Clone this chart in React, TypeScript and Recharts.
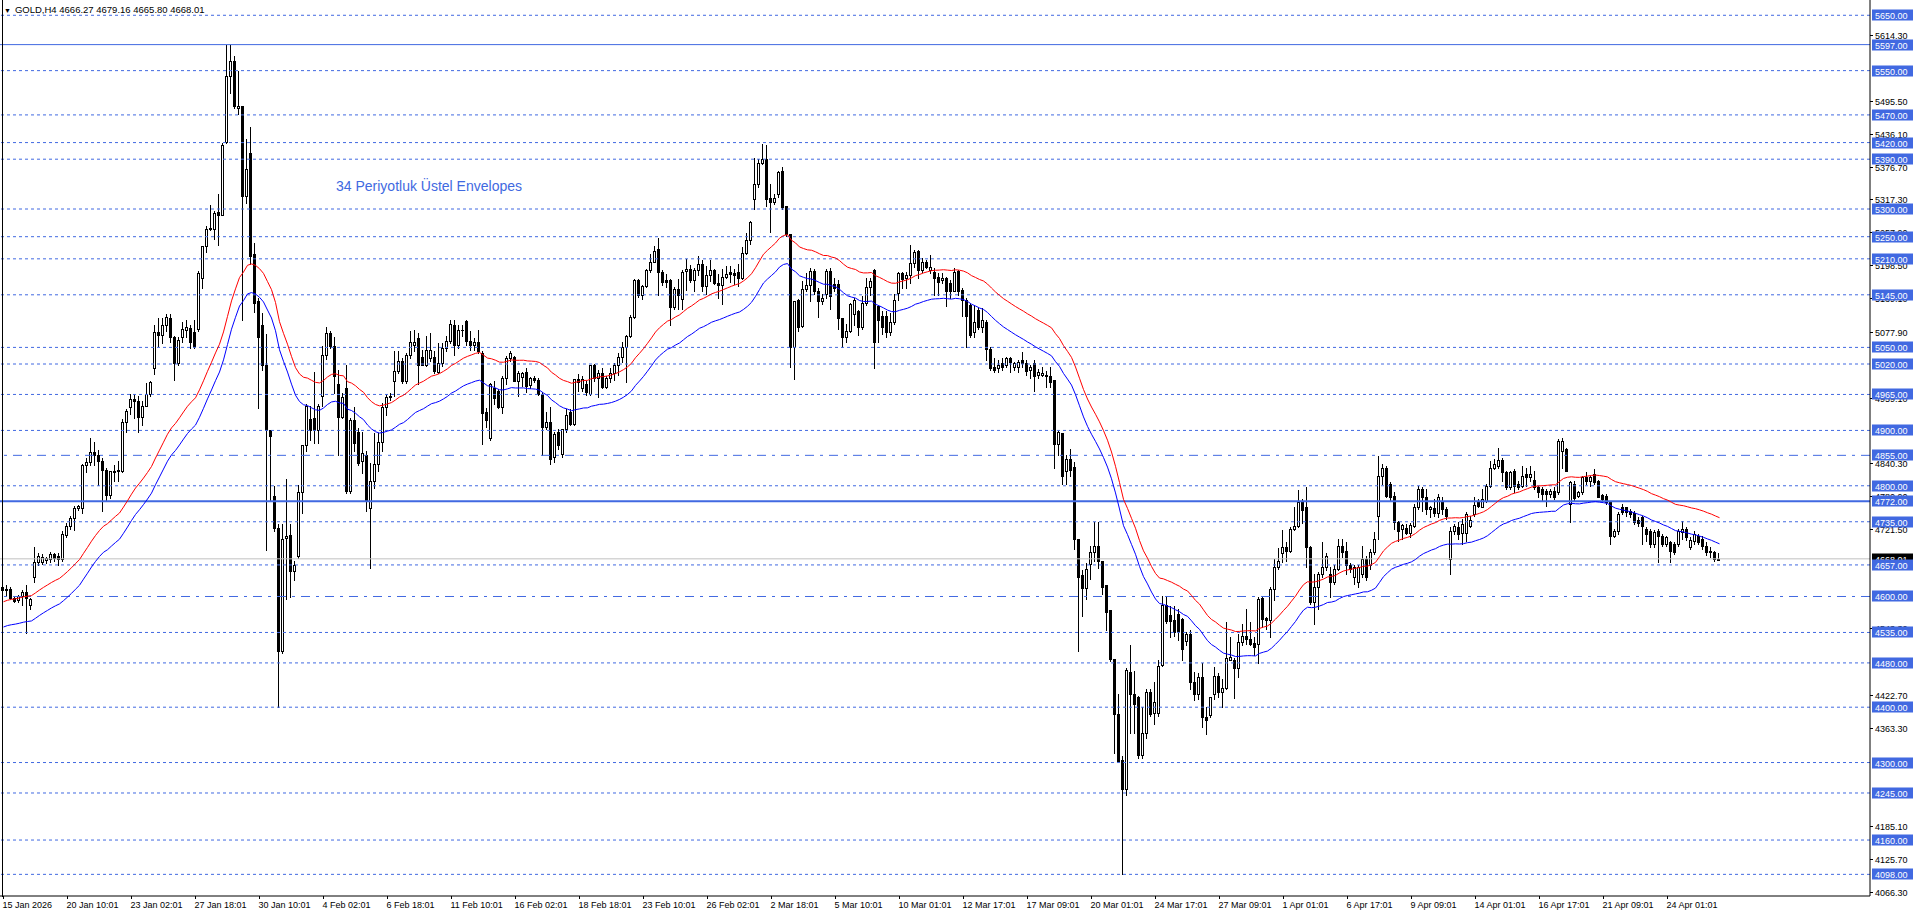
import React from "react";
import { ComposedChart, Bar, Line, XAxis, YAxis, ReferenceLine } from "recharts";

// GOLD H4 bars (open / high / low / close)
const opens = [
  4618, 4612, 4614, 4597, 4594, 4600, 4608, 4584, 4635, 4662,
  4662, 4666, 4667, 4676, 4674, 4668, 4711, 4727, 4742, 4759,
  4759, 4838, 4843, 4861, 4855, 4845, 4829, 4784, 4825, 4828,
  4827, 4915, 4943, 4957, 4953, 4924, 4944, 4966, 5013, 5078,
  5073, 5091, 5103, 5068, 5022, 5068, 5082, 5085, 5078, 5083,
  5176, 5233, 5263, 5264, 5294, 5290, 5421, 5541, 5568, 5483,
  5487, 5324, 5401, 5219, 5134, 5090, 5018, 4901, 4781, 4723,
  4502, 4705, 4711, 4646, 4673, 4789, 4874, 4921, 4922, 4901,
  4963, 5037, 5076, 5053, 4983, 4924, 4977, 4790, 4919, 4898,
  4844, 4856, 4760, 4808, 4839, 4879, 4943, 4960, 4989, 5008,
  5025, 4989, 5037, 5055, 5067, 5032, 5019, 5031, 5032, 5005,
  5022, 5049, 5062, 5091, 5055, 5082, 5097, 5061, 5055, 5060,
  5040, 4934, 4886, 4977, 4971, 4943, 4995, 5031, 5033, 4990,
  4996, 5006, 4982, 4994, 4991, 4966, 4906, 4915, 4852, 4897,
  4858, 4902, 4933, 4912, 4993, 4976, 4984, 4965, 5018, 4994,
  5003, 4979, 4994, 5003, 5018, 5033, 5051, 5071, 5105, 5171,
  5144, 5161, 5189, 5205, 5228, 5187, 5171, 5171, 5123, 5156,
  5138, 5188, 5192, 5172, 5190, 5201, 5161, 5180, 5190, 5167,
  5163, 5178, 5187, 5184, 5187, 5176, 5221, 5244, 5318, 5346,
  5384, 5390, 5320, 5312, 5327, 5368, 5306, 5255, 5050, 5136,
  5089, 5155, 5162, 5188, 5152, 5134, 5146, 5188, 5164, 5164,
  5103, 5069, 5080, 5110, 5115, 5087, 5130, 5160, 5190, 5124,
  5106, 5106, 5077, 5096, 5148, 5184, 5175, 5181, 5202, 5224,
  5190, 5205, 5190, 5187, 5178, 5172, 5175, 5166, 5152, 5188,
  5154, 5136, 5127, 5077, 5118, 5087, 5096, 5048, 5015, 5012,
  5021, 5018, 5030, 5015, 5015, 5027, 5021, 5009, 5021, 5001,
  5001, 5001, 4998, 4991, 4876, 4896, 4826, 4848, 4834, 4704,
  4638, 4615, 4658, 4680, 4691, 4664, 4621, 4575, 4487, 4388,
  4304, 4252, 4464, 4423, 4419, 4314, 4353, 4428, 4390, 4390,
  4476, 4585, 4567, 4557, 4569, 4559, 4519, 4532, 4446, 4424,
  4454, 4383, 4385, 4424, 4457, 4428, 4435, 4486, 4485, 4470,
  4518, 4528, 4524, 4516, 4515, 4598, 4562, 4558, 4614, 4653,
  4679, 4689, 4683, 4722, 4727, 4771, 4762, 4690, 4590, 4617,
  4641, 4653, 4640, 4626, 4649, 4692, 4682, 4656, 4635, 4626,
  4641, 4668, 4656, 4680, 4746, 4818, 4832, 4803, 4782, 4734,
  4722, 4724, 4715, 4728, 4761, 4794, 4779, 4758, 4760, 4750,
  4770, 4758, 4668, 4719, 4726, 4714, 4714, 4728, 4749, 4770,
  4762, 4773, 4800, 4833, 4836, 4846, 4824, 4797, 4826, 4804,
  4800, 4821, 4815, 4810, 4797, 4794, 4791, 4786, 4791, 4788,
  4863, 4866, 4767, 4804, 4782, 4788, 4815, 4808, 4821, 4808,
  4783, 4782, 4770, 4710, 4719, 4761, 4761, 4755, 4750, 4738,
  4743, 4722, 4719, 4695, 4719, 4710, 4695, 4698, 4695, 4695,
  4716, 4722, 4689, 4701, 4710, 4704, 4692, 4680, 4680, 4666.27,
];

const highs = [
  4624, 4621, 4618, 4600, 4603, 4612, 4620, 4598, 4689, 4679,
  4676, 4672, 4680, 4678, 4678, 4718, 4733, 4745, 4763, 4765,
  4840, 4851, 4886, 4879, 4865, 4850, 4833, 4800, 4838, 4845,
  4920, 4939, 4965, 4965, 4962, 4953, 4986, 4990, 5091, 5103,
  5103, 5110, 5110, 5070, 5068, 5095, 5099, 5090, 5099, 5188,
  5233, 5270, 5308, 5297, 5327, 5420, 5597, 5597, 5576, 5550,
  5487, 5426, 5448, 5238, 5140, 5112, 5075, 4901, 4800, 4731,
  4731, 4812, 4731, 4665, 4801, 4874, 4948, 4944, 5006, 4948,
  5052, 5087, 5080, 5068, 5010, 4968, 5019, 4922, 4942, 4904,
  4898, 4862, 4841, 4895, 4895, 4950, 4965, 4968, 5043, 5043,
  5031, 5040, 5079, 5082, 5076, 5046, 5070, 5076, 5043, 5058,
  5058, 5070, 5100, 5100, 5091, 5091, 5100, 5079, 5067, 5082,
  5043, 4941, 4986, 4989, 4974, 4998, 5034, 5043, 5034, 5008,
  5006, 5012, 4996, 4998, 4994, 4970, 4933, 4942, 4897, 4903,
  4903, 4939, 4939, 4993, 5002, 4999, 4990, 5018, 5020, 5009,
  5012, 4999, 5012, 5021, 5039, 5060, 5072, 5108, 5174, 5174,
  5163, 5192, 5219, 5234, 5248, 5189, 5183, 5174, 5159, 5174,
  5189, 5210, 5198, 5194, 5216, 5207, 5197, 5207, 5192, 5182,
  5192, 5197, 5197, 5192, 5200, 5231, 5256, 5279, 5393, 5390,
  5417, 5416, 5345, 5327, 5369, 5375, 5306, 5255, 5134, 5137,
  5170, 5185, 5194, 5191, 5157, 5146, 5191, 5194, 5176, 5171,
  5104, 5092, 5131, 5140, 5118, 5142, 5175, 5175, 5192, 5127,
  5115, 5115, 5112, 5146, 5187, 5186, 5187, 5235, 5226, 5226,
  5211, 5208, 5217, 5193, 5184, 5184, 5178, 5172, 5193, 5190,
  5157, 5139, 5130, 5127, 5121, 5121, 5100, 5051, 5030, 5027,
  5030, 5033, 5033, 5024, 5027, 5042, 5028, 5018, 5028, 5011,
  5014, 5008, 5014, 4991, 4899, 4896, 4856, 4866, 4843, 4704,
  4648, 4661, 4691, 4734, 4734, 4664, 4621, 4575, 4487, 4423,
  4311, 4470, 4512, 4466, 4420, 4400, 4433, 4433, 4446, 4486,
  4601, 4601, 4582, 4582, 4578, 4562, 4535, 4539, 4463, 4461,
  4479, 4400, 4418, 4473, 4461, 4451, 4554, 4527, 4488, 4533,
  4551, 4578, 4554, 4527, 4599, 4599, 4563, 4617, 4668, 4687,
  4720, 4698, 4725, 4762, 4792, 4777, 4798, 4692, 4641, 4644,
  4698, 4679, 4653, 4656, 4704, 4704, 4698, 4660, 4656, 4656,
  4692, 4674, 4686, 4716, 4854, 4840, 4836, 4806, 4788, 4737,
  4731, 4731, 4732, 4767, 4800, 4798, 4794, 4764, 4776, 4785,
  4780, 4761, 4725, 4731, 4734, 4740, 4752, 4746, 4779, 4776,
  4794, 4803, 4845, 4848, 4869, 4851, 4827, 4827, 4830, 4809,
  4836, 4833, 4836, 4827, 4800, 4797, 4794, 4794, 4797, 4885,
  4886, 4869, 4809, 4809, 4790, 4818, 4824, 4818, 4831, 4810,
  4786, 4785, 4773, 4722, 4752, 4767, 4762, 4758, 4755, 4743,
  4746, 4725, 4722, 4720, 4722, 4713, 4710, 4701, 4698, 4722,
  4737, 4725, 4707, 4719, 4713, 4710, 4698, 4689, 4683, 4679.16,
];

const lows = [
  4603, 4600, 4596, 4590, 4590, 4585, 4534, 4578, 4627, 4656,
  4658, 4660, 4663, 4664, 4657, 4664, 4708, 4722, 4721, 4756,
  4751, 4825, 4838, 4838, 4801, 4754, 4775, 4778, 4808, 4808,
  4825, 4898, 4929, 4922, 4898, 4910, 4944, 4963, 5002, 5052,
  5058, 5080, 5060, 4991, 5018, 5060, 5068, 5049, 5049, 5080,
  5157, 5223, 5262, 5246, 5235, 5289, 5420, 5510, 5483, 5471,
  5099, 5310, 5200, 5114, 4940, 5010, 4684, 4772, 4719, 4400,
  4498, 4595, 4599, 4630, 4669, 4750, 4863, 4882, 4878, 4878,
  4944, 5029, 5049, 4967, 4855, 4922, 4787, 4787, 4862, 4838,
  4823, 4755, 4651, 4796, 4826, 4862, 4928, 4955, 4962, 5004,
  4986, 4986, 5031, 5043, 4983, 5019, 5016, 5025, 5004, 5004,
  5016, 5043, 5058, 5037, 5049, 5070, 5055, 5046, 5046, 5040,
  4875, 4907, 4883, 4947, 4940, 4931, 4983, 5025, 4989, 4963,
  4981, 4969, 4976, 4988, 4964, 4855, 4903, 4840, 4843, 4867,
  4852, 4897, 4909, 4909, 4972, 4972, 4964, 4964, 4990, 4960,
  4976, 4976, 4987, 4991, 5000, 5024, 4987, 5069, 5104, 5141,
  5138, 5159, 5186, 5204, 5144, 5162, 5159, 5091, 5120, 5120,
  5120, 5153, 5168, 5152, 5180, 5152, 5146, 5170, 5164, 5140,
  5128, 5176, 5168, 5164, 5161, 5174, 5219, 5237, 5300, 5339,
  5381, 5306, 5258, 5309, 5321, 5300, 5252, 5014, 4993, 5080,
  5087, 5152, 5134, 5146, 5105, 5128, 5140, 5119, 5152, 5083,
  5050, 5059, 5077, 5090, 5072, 5084, 5127, 5145, 5012, 5060,
  5075, 5069, 5072, 5093, 5136, 5157, 5157, 5166, 5196, 5175,
  5187, 5194, 5184, 5145, 5145, 5166, 5124, 5139, 5151, 5145,
  5106, 5051, 5069, 5069, 5084, 5078, 5027, 5009, 5006, 5006,
  5009, 5015, 5006, 5009, 5006, 5015, 5001, 4995, 4972, 4995,
  4998, 4978, 4978, 4832, 4856, 4803, 4803, 4818, 4686, 4502,
  4565, 4595, 4631, 4664, 4651, 4605, 4539, 4483, 4318, 4301,
  4099, 4242, 4354, 4354, 4308, 4308, 4344, 4384, 4370, 4384,
  4474, 4552, 4526, 4529, 4522, 4486, 4512, 4433, 4413, 4415,
  4364, 4352, 4382, 4415, 4418, 4400, 4433, 4485, 4417, 4455,
  4512, 4515, 4512, 4494, 4479, 4545, 4542, 4527, 4593, 4650,
  4662, 4665, 4680, 4720, 4725, 4732, 4653, 4587, 4551, 4578,
  4635, 4647, 4599, 4623, 4648, 4671, 4641, 4644, 4623, 4617,
  4635, 4629, 4650, 4677, 4704, 4803, 4779, 4773, 4722, 4701,
  4704, 4713, 4707, 4725, 4758, 4755, 4749, 4743, 4746, 4743,
  4749, 4740, 4641, 4712, 4704, 4695, 4701, 4725, 4746, 4761,
  4761, 4770, 4797, 4830, 4833, 4809, 4794, 4794, 4788, 4794,
  4797, 4800, 4809, 4794, 4780, 4773, 4764, 4780, 4776, 4786,
  4833, 4826, 4734, 4774, 4779, 4785, 4804, 4800, 4804, 4779,
  4774, 4767, 4695, 4707, 4713, 4749, 4746, 4744, 4731, 4728,
  4695, 4701, 4689, 4689, 4662, 4692, 4692, 4662, 4677, 4692,
  4704, 4702, 4686, 4695, 4695, 4686, 4675, 4671, 4665, 4665.8,
];

const closes = [
  4612, 4614, 4597, 4592, 4600, 4608, 4598, 4596, 4663, 4674,
  4672, 4670, 4676, 4670, 4667, 4713, 4727, 4742, 4759, 4763,
  4838, 4843, 4861, 4855, 4845, 4829, 4784, 4826, 4827, 4826,
  4915, 4935, 4957, 4953, 4924, 4944, 4966, 4987, 5078, 5073,
  5091, 5105, 5068, 5022, 5064, 5083, 5087, 5060, 5053, 5184,
  5233, 5264, 5265, 5293, 5290, 5416, 5541, 5568, 5487, 5487,
  5324, 5372, 5215, 5130, 5068, 5018, 4901, 4890, 4723, 4502,
  4704, 4709, 4646, 4657, 4789, 4874, 4944, 4901, 4901, 4944,
  5037, 5076, 5053, 4998, 4925, 4961, 4790, 4919, 4877, 4841,
  4859, 4775, 4808, 4839, 4879, 4943, 4960, 4963, 5008, 5025,
  4989, 5037, 5060, 5060, 5019, 5019, 5046, 5046, 5007, 5022,
  5049, 5062, 5092, 5055, 5082, 5082, 5061, 5055, 5060, 5043,
  4931, 4919, 4983, 4959, 4942, 4995, 5031, 5040, 4990, 5003,
  5003, 4980, 4994, 4991, 4966, 4906, 4915, 4849, 4894, 4873,
  4902, 4928, 4912, 4993, 4987, 4993, 4970, 5018, 4994, 5003,
  4979, 4994, 5003, 5018, 5033, 5051, 5071, 5105, 5171, 5144,
  5161, 5189, 5205, 5225, 5187, 5168, 5168, 5123, 5156, 5144,
  5186, 5192, 5171, 5190, 5201, 5161, 5180, 5190, 5167, 5163,
  5178, 5182, 5183, 5181, 5176, 5221, 5244, 5276, 5346, 5384,
  5390, 5318, 5312, 5320, 5366, 5304, 5255, 5050, 5134, 5086,
  5155, 5162, 5188, 5151, 5134, 5139, 5188, 5143, 5158, 5104,
  5068, 5080, 5128, 5135, 5087, 5130, 5160, 5170, 5060, 5100,
  5087, 5078, 5096, 5136, 5184, 5174, 5181, 5202, 5222, 5190,
  5205, 5196, 5196, 5175, 5169, 5175, 5152, 5151, 5187, 5151,
  5136, 5106, 5072, 5096, 5087, 5100, 5048, 5012, 5009, 5018,
  5015, 5030, 5024, 5021, 5024, 5021, 5008, 5014, 4998, 5006,
  5004, 4998, 4988, 4876, 4897, 4818, 4848, 4828, 4704, 4636,
  4615, 4650, 4680, 4691, 4664, 4618, 4572, 4487, 4387, 4301,
  4252, 4468, 4423, 4405, 4314, 4353, 4428, 4387, 4410, 4474,
  4585, 4555, 4555, 4536, 4538, 4506, 4532, 4446, 4423, 4454,
  4382, 4376, 4418, 4457, 4428, 4435, 4488, 4490, 4470, 4518,
  4528, 4524, 4515, 4508, 4596, 4560, 4557, 4614, 4653, 4665,
  4689, 4683, 4722, 4727, 4771, 4756, 4690, 4590, 4617, 4641,
  4653, 4674, 4626, 4649, 4692, 4680, 4656, 4650, 4653, 4653,
  4668, 4635, 4680, 4704, 4818, 4832, 4782, 4780, 4734, 4718,
  4730, 4715, 4730, 4761, 4794, 4779, 4758, 4761, 4750, 4780,
  4758, 4746, 4719, 4727, 4713, 4731, 4749, 4738, 4766, 4764,
  4776, 4800, 4833, 4840, 4846, 4824, 4797, 4824, 4800, 4797,
  4818, 4815, 4821, 4798, 4788, 4786, 4786, 4791, 4779, 4880,
  4881, 4827, 4806, 4778, 4788, 4815, 4808, 4815, 4806, 4780,
  4776, 4770, 4710, 4719, 4749, 4752, 4752, 4749, 4734, 4732,
  4728, 4713, 4695, 4716, 4710, 4695, 4707, 4683, 4680, 4719,
  4722, 4707, 4702, 4713, 4698, 4692, 4680, 4683, 4668, 4668.01,
];

// time scale labels, one every 16 bars
const timeLabels = [
  "15 Jan 2026", "20 Jan 10:01", "23 Jan 02:01", "27 Jan 18:01", "30 Jan 10:01",
  "4 Feb 02:01", "6 Feb 18:01", "11 Feb 10:01", "16 Feb 02:01", "18 Feb 18:01",
  "23 Feb 10:01", "26 Feb 02:01", "2 Mar 18:01", "5 Mar 10:01", "10 Mar 01:01",
  "12 Mar 17:01", "17 Mar 09:01", "20 Mar 01:01", "24 Mar 17:01", "27 Mar 09:01",
  "1 Apr 01:01", "6 Apr 17:01", "9 Apr 09:01", "14 Apr 01:01", "16 Apr 17:01",
  "21 Apr 09:01", "24 Apr 01:01",
];
const LABEL_EVERY = 16;

// plain price scale ticks
const priceTicks = [
  5614.3, 5495.5, 5436.1, 5376.7, 5317.3, 5257.9, 5198.5, 5139.1, 5077.9, 4959.1,
  4840.3, 4780.9, 4721.5, 4543.3, 4422.7, 4363.3, 4185.1, 4125.7, 4066.3,
];

// horizontal levels drawn on the chart
const dottedLevels = [
  5650, 5550, 5470, 5420, 5390, 5300, 5250, 5210, 5145, 5050, 5020, 4965,
  4900, 4800, 4735, 4657, 4535, 4480, 4400, 4300, 4245, 4160, 4098,
];
const dashDotLevels = [4855, 4600];
const solidLevels = [5597];
const thickLevels = [4772];
const lastPrice = 4668.01;

const EMA_PERIOD = 34;
const ENV_DEV = 0.005;
const EMA_SEED = 4565;

const ROYAL = "#4169E1";
const FONT = "'Liberation Sans', Arial, sans-serif";

const levelSet = new Set([...dottedLevels, ...dashDotLevels, ...solidLevels, ...thickLevels]);

const k = 2 / (EMA_PERIOD + 1);
let ema = EMA_SEED;
const rows = closes.map((c, i) => {
  ema = ema + k * (c - ema);
  return {
    t: i,
    o: opens[i],
    h: highs[i],
    l: lows[i],
    c,
    range: [lows[i], highs[i]],
    up: ema * (1 + ENV_DEV),
    dn: ema * (1 - ENV_DEV),
  };
});

const Candle = (props: any) => {
  const { x, y, width, height, payload } = props;
  if (x == null || y == null) return null;
  const top = Math.min(y, y + height);
  const bot = Math.max(y, y + height);
  const span = payload.h - payload.l || 1;
  const toY = (v: number) => top + ((payload.h - v) / span) * (bot - top);
  const cx = Math.round(x + width / 2) - 0.5;
  const yo = toY(payload.o);
  const yc = toY(payload.c);
  const bTop = Math.round(Math.min(yo, yc)) + 0.5;
  const bBot = Math.round(Math.max(yo, yc)) + 0.5;
  const bull = payload.c >= payload.o;
  return (
    <g>
      <line x1={cx} x2={cx} y1={Math.round(top)} y2={Math.round(bot) + 1} stroke="#000" strokeWidth={1} />
      {bBot - bTop < 1 ? (
        <line x1={cx - 1.5} x2={cx + 1.5} y1={bTop} y2={bTop} stroke="#000" strokeWidth={1} />
      ) : (
        <rect x={cx - 1} y={bTop} width={2} height={bBot - bTop} fill={bull ? "#fff" : "#000"} stroke="#000" strokeWidth={1} />
      )}
    </g>
  );
};

const PriceTick = (props: any) => {
  const { x, y, payload } = props;
  const v = payload.value as number;
  const yy = Math.round(y) + 0.5;
  const txt = v.toFixed(2);
  if (levelSet.has(v) || v === lastPrice) {
    return (
      <g>
        <rect x={x + 2} y={yy - 6} width={41} height={11} fill={v === lastPrice ? "#000" : ROYAL} />
        <text x={x + 5} y={yy} dy="0.35em" fill="#fff" fontSize={9} fontFamily={FONT}>
          {txt}
        </text>
      </g>
    );
  }
  return (
    <g>
      <line x1={x} x2={x + 3} y1={yy} y2={yy} stroke="#000" />
      <text x={x + 5} y={yy} dy="0.35em" fill="#000" fontSize={9} fontFamily={FONT}>
        {txt}
      </text>
    </g>
  );
};

const TimeTick = (props: any) => {
  const { x, y, payload } = props;
  const i = payload.value as number;
  if (i % LABEL_EVERY !== 0) return <g />;
  const lab = timeLabels[i / LABEL_EVERY];
  if (!lab) return <g />;
  const xx = Math.round(x) - 0.5;
  return (
    <g>
      <line x1={xx} x2={xx} y1={y} y2={y + 3} stroke="#000" />
      <text x={xx - 1} y={y + 12} fill="#000" fontSize={9} fontFamily={FONT}>
        {lab}
      </text>
    </g>
  );
};

export default function App() {
  return (
    <div style={{ position: "absolute", left: 0, top: 0, width: 1916, height: 917, background: "#fff", fontFamily: FONT }}>
      <ComposedChart
        width={1916}
        height={917}
        data={rows}
        margin={{ top: 0, right: 0, bottom: 0, left: 0 }}
        barCategoryGap={0}
        barGap={0}
      >
        <XAxis
          dataKey="t"
          height={21}
          interval={0}
          tickLine={false}
          tickSize={0}
          tickMargin={0}
          axisLine={{ stroke: "#000" }}
          padding={{ left: 1.5, right: 148.5 }}
          tick={(p: any) => <TimeTick {...p} />}
        />
        <YAxis
          orientation="right"
          type="number"
          width={46}
          domain={[4058.9, 5677.6]}
          allowDataOverflow
          ticks={[...priceTicks, lastPrice, ...Array.from(levelSet)]}
          interval={0}
          tickLine={false}
          tickSize={0}
          tickMargin={0}
          axisLine={{ stroke: "#000" }}
          tick={(p: any) => <PriceTick {...p} />}
        />
        {dottedLevels.map((v) => (
          <ReferenceLine key={"d" + v} y={v} stroke={ROYAL} strokeDasharray="3 3" />
        ))}
        {dashDotLevels.map((v) => (
          <ReferenceLine key={"dd" + v} y={v} stroke={ROYAL} strokeDasharray="9 6 3 6" />
        ))}
        {solidLevels.map((v) => (
          <ReferenceLine key={"s" + v} y={v} stroke={ROYAL} strokeWidth={1} />
        ))}
        {thickLevels.map((v) => (
          <ReferenceLine key={"t" + v} y={v} stroke={ROYAL} strokeWidth={2} />
        ))}
        <ReferenceLine y={lastPrice} stroke="#C0C0C0" />
        <Bar dataKey="range" shape={(p: any) => <Candle {...p} />} isAnimationActive={false} barSize={4} />
        <Line dataKey="up" type="linear" stroke="#FF0000" strokeWidth={1} dot={false} activeDot={false} isAnimationActive={false} />
        <Line dataKey="dn" type="linear" stroke="#0000FF" strokeWidth={1} dot={false} activeDot={false} isAnimationActive={false} />
      </ComposedChart>
      <div style={{ position: "absolute", left: 2, top: 0, width: 1, height: 897, background: "#000" }} />
      <div style={{ position: "absolute", left: 4, top: 4, fontSize: 9.5, lineHeight: "12px", color: "#000", whiteSpace: "nowrap" }}>
        <span style={{ fontSize: 7, marginRight: 4 }}>▼</span>
        GOLD,H4 4666.27 4679.16 4665.80 4668.01
      </div>
      <div style={{ position: "absolute", left: 336, top: 177, fontSize: 14, lineHeight: "18px", color: ROYAL, whiteSpace: "nowrap" }}>
        34 Periyotluk Üstel Envelopes
      </div>
    </div>
  );
}
